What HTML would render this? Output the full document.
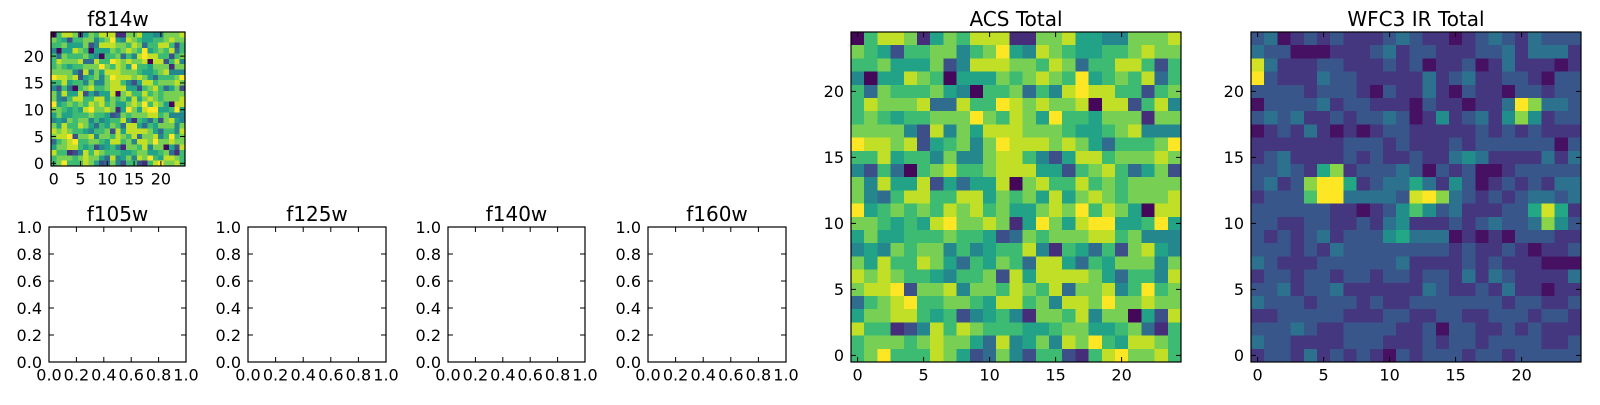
<!DOCTYPE html>
<html>
<head>
<meta charset="utf-8">
<style>
html,body{margin:0;padding:0;background:#fff;}
body{width:1600px;height:400px;overflow:hidden;}
svg text{font-family:"DejaVu Sans","Liberation Sans",sans-serif;fill:#000;}
</style>
</head>
<body>
<div id="wrap"></div>
<script>
var VIR=["#440154","#482475","#414487","#355f8d","#2a788e","#21918c","#22a884","#44bf70","#7ad151","#bddf26","#fde725"];
function hx(c){return [parseInt(c.substr(1,2),16),parseInt(c.substr(3,2),16),parseInt(c.substr(5,2),16)];}
var VRGB=VIR.map(hx);
function vir(v){v=Math.max(0,Math.min(1,v));var t=v*10;var i=Math.floor(t);if(i>=10)i=9;var f=t-i;var a=VRGB[i],b=VRGB[i+1];
var r=Math.round(a[0]+(b[0]-a[0])*f),g=Math.round(a[1]+(b[1]-a[1])*f),bl=Math.round(a[2]+(b[2]-a[2])*f);return "rgb("+r+","+g+","+bl+")";}

var ACS=[
"0688715768881177855447778",
"7652667746795487655667877",
"6675557248887768736688626",
"4055876055576787695676836",
"6376667540667364898866267",
"6877783386698787780882684",
"6765667779768759665777177",
"7777428475888777655678444",
"9887825674798887875366679",
"6685664744788642588677787",
"4263067866788855267863572",
"7485582535580786686767777",
"7436886688576758578767778",
"9567676878675578796875088",
"7765658977871597589955695",
"5755666766523767778867444",
"4547677464566841653627854",
"7586687536576388536577747",
"8787665466728588887536648",
"7889277847768768377846967",
"3678966776588674887977877",
"5778865624564177684770528",
"8661248687666556775567316",
"6777678775384574879658876",
"6796668752374266216897786"];
var WFC=[
"2301212111232110123213222",
"3220001112312211122313331",
"8311122111212011201311101",
"9211132211111312311221022",
"2222122210211310211022122",
"0222231221110211011397332",
"2323112122320141231474122",
"0121310101221111121212111",
"1111111222121112122222202",
"1231111212112113431111313",
"2232157122232021200122222",
"2312799512335314201212133",
"1222699333328973212123323",
"2222221101246423111225851",
"2211221121341112123223742",
"2121231222453330101022211",
"2221213222222221211210112",
"3211122222231111212111000",
"1221221221221221313211113",
"2231223111111321121311011",
"3222122212112222222122112",
"1122222111221122112221221",
"2223211222211202211212111",
"3221111222111212212222112",
"1221312121021222122122222"];

var s=[];
s.push('<svg xmlns="http://www.w3.org/2000/svg" width="1600" height="400" viewBox="0 0 1600 400">');
s.push('<rect x="0" y="0" width="1600" height="400" fill="#fff"/>');
var TL=5, FS=16;
function line(x1,y1,x2,y2){s.push('<line x1="'+x1+'" y1="'+y1+'" x2="'+x2+'" y2="'+y2+'" stroke="#000" stroke-width="1"/>');}
function text(x,y,t,anchor,size){s.push('<text x="'+x+'" y="'+y+'" text-anchor="'+anchor+'" font-size="'+size+'">'+t+'</text>');}
function frame(x0,y0,w,h){s.push('<rect x="'+x0+'" y="'+y0+'" width="'+w+'" height="'+h+'" fill="none" stroke="#000" stroke-width="1.2"/>');}
function title(x0,y0,w,t){text(x0+w/2,y0-6,t,"middle",20);}

function imageAxes(x0,y0,w,h,data,off,t){
  var cw=w/25,ch=h/25;
  s.push('<g shape-rendering="crispEdges">');
  for(var r=0;r<25;r++){for(var c=0;c<25;c++){
    var d=parseInt(data[r][c]);var v=d>=9?1:Math.min(1,(d+off)/9);
    s.push('<rect x="'+(x0+c*cw).toFixed(2)+'" y="'+(y0+r*ch).toFixed(2)+'" width="'+(cw+0.6).toFixed(2)+'" height="'+(ch+0.6).toFixed(2)+'" fill="'+vir(v)+'"/>');
  }}
  s.push('</g>');
  var ticks=[0,5,10,15,20];
  ticks.forEach(function(k){
    var px=x0+(k+0.5)*cw;
    line(px,y0+h,px,y0+h-TL);line(px,y0,px,y0+TL);
    text(px,y0+h+18.5,String(k),"middle",FS);
    var py=y0+h-(k+0.5)*ch;
    line(x0,py,x0+TL,py);line(x0+w,py,x0+w-TL,py);
    text(x0-7,py+5.8,String(k),"end",FS);
  });
  frame(x0,y0,w,h);
  title(x0,y0,w,t);
}
function emptyAxes(x0,y0,w,h,t){
  var labs=["0.0","0.2","0.4","0.6","0.8","1.0"];
  for(var i=0;i<6;i++){
    var px=x0+w*i/5;
    line(px,y0+h,px,y0+h-TL);line(px,y0,px,y0+TL);
    text(px,y0+h+18.5,labs[i],"middle",FS);
    var py=y0+h-h*i/5;
    line(x0,py,x0+TL,py);line(x0+w,py,x0+w-TL,py);
    text(x0-7,py+5.8,labs[i],"end",FS);
  }
  frame(x0,y0,w,h);
  title(x0,y0,w,t);
}
imageAxes(51,32,134,134,ACS,0.15,"f814w");
imageAxes(851,32,330,330,ACS,0.15,"ACS Total");
imageAxes(1251,32,330,330,WFC,0.4,"WFC3 IR Total");
emptyAxes(49,227,137,135,"f105w");
emptyAxes(248,227,138,135,"f125w");
emptyAxes(448,227,137,135,"f140w");
emptyAxes(648,227,138,135,"f160w");
s.push('</svg>');
document.getElementById("wrap").innerHTML=s.join("");
</script>
</body>
</html>
